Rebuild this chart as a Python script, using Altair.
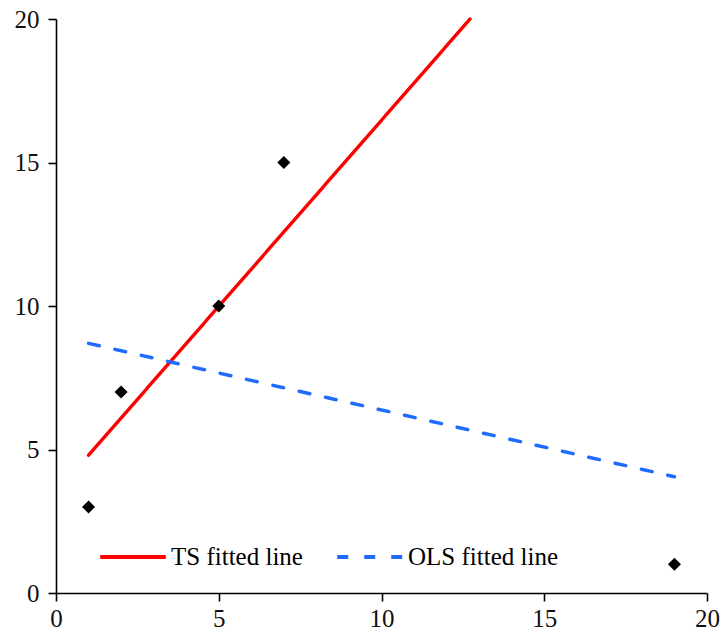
import altair as alt
import pandas as pd

# Observed points
pt_x = [1, 2, 5, 7, 19]
pt_y = [3, 7, 10, 15, 1]

# Fitted line endpoints
ts_x = [1, 12.72]
ts_y = [4.8, 20]
ols_x = [1, 19]
ols_y = [8.7, 4.05]

series_names = ["TS fitted line", "OLS fitted line"]
series_colors = ["#ff0000", "#1f6bff"]
series_dash = [[1, 0], [11, 16]]

points = pd.DataFrame({"x": pt_x, "y": pt_y})
lines = pd.DataFrame({
    "x": ts_x + ols_x,
    "y": ts_y + ols_y,
    "series": [series_names[0]] * len(ts_x) + [series_names[1]] * len(ols_x),
})

FONT = "Liberation Serif"

xs = alt.Scale(domain=[0, 20], nice=False, zero=False)
ys = alt.Scale(domain=[0, 20], nice=False, zero=False)

xaxis = alt.Axis(values=[0, 5, 10, 15, 20], title=None, grid=False, labelPadding=5,
                 labelFont=FONT, labelFontSize=25)
yaxis = alt.Axis(values=[0, 5, 10, 15, 20], title=None, grid=False, labelPadding=9,
                 labelFont=FONT, labelFontSize=25)

legend = alt.Legend(
    title=None, orient="none", direction="horizontal",
    legendX=42, legendY=503, symbolType="stroke", symbolSize=4300,
    symbolStrokeWidth=3.8, labelFont=FONT, labelFontSize=25,
    labelColor="black", labelOffset=3, columnPadding=26, padding=0,
    labelLimit=400,
)

line_layer = alt.Chart(lines).mark_line(strokeWidth=3.4, strokeCap="round").encode(
    x=alt.X("x:Q", scale=xs, axis=xaxis),
    y=alt.Y("y:Q", scale=ys, axis=yaxis),
    color=alt.Color("series:N", scale=alt.Scale(domain=series_names, range=series_colors), legend=legend),
    strokeDash=alt.StrokeDash("series:N", scale=alt.Scale(domain=series_names, range=series_dash), legend=legend),
    detail="series:N",
)

point_layer = alt.Chart(points).mark_point(shape="diamond", filled=True, color="black", size=170, opacity=1).encode(
    x=alt.X("x:Q", scale=xs, axis=xaxis),
    y=alt.Y("y:Q", scale=ys, axis=yaxis),
)

chart = alt.layer(line_layer, point_layer).properties(
    width=651, height=574,
    background="white",
    autosize=alt.AutoSizeParams(type="none"),
    padding={"left": 56, "top": 19, "right": 14, "bottom": 42},
).configure(font=FONT).configure_view(stroke=None).configure_axis(
    labelFont=FONT, labelFontSize=25, labelColor="#111",
    domainColor="black", domainWidth=1.6, tickColor="black",
    tickWidth=1.6, tickSize=8, labelFlush=False, grid=False,
)

chart.save("out.html", embed_options={"renderer": "svg", "actions": False})
